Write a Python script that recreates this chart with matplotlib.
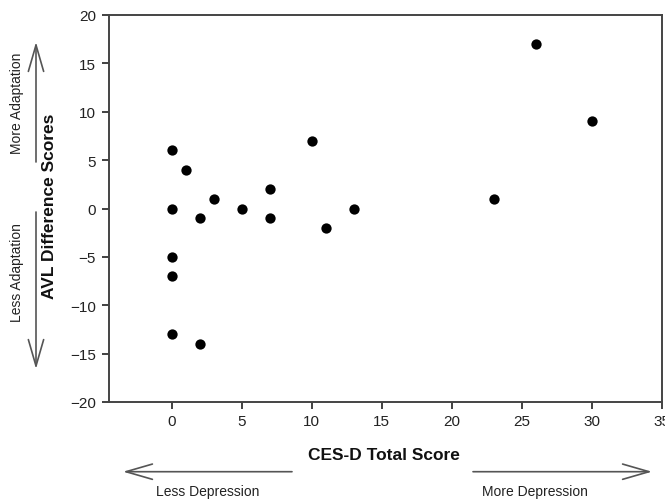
import matplotlib
matplotlib.use("Agg")
import matplotlib.pyplot as plt
from matplotlib.patches import FancyArrowPatch

plt.rcParams['font.family'] = ['Liberation Sans', 'DejaVu Sans']

# Data
ces_d = [0, 1, 0, 2, 3, 5, 7, 7, 10, 11, 13, 0, 0, 0, 2, 23, 26, 30]
avl_diff = [6, 4, 0, -1, 1, 0, 2, -1, 7, -2, 0, -5, -7, -13, -14, 1, 17, 9]
x_ticks = [0, 5, 10, 15, 20, 25, 30, 35]
y_ticks = [-20, -15, -10, -5, 0, 5, 10, 15, 20]

W, H = 665, 502
fig = plt.figure(figsize=(W / 100, H / 100), dpi=100)

def fx(px):
    return px / W

def fy(py):
    return 1 - py / H

ax = fig.add_axes([fx(108.5), fy(403), fx(661.5) - fx(108.5), fy(16) - fy(403)])
ax.scatter(ces_d, avl_diff, s=55, color='black', zorder=3, linewidths=0)
ax.set_xlim(-4.5, 35)
ax.set_ylim(-20, 20)
ax.set_xticks(x_ticks)
ax.set_yticks(y_ticks)
ax.tick_params(direction='out', length=5, width=1.3, color='#333333',
               labelsize=11, labelcolor='#222222', pad=4)
for sp in ax.spines.values():
    sp.set_color('#444444')
    sp.set_linewidth(1.4)

# Axis labels
fig.text(fx(384), fy(456), 'CES-D Total Score', ha='center', va='center',
         fontsize=12.5, fontweight='bold', color='#111111')
fig.text(fx(50), fy(206), 'AVL Difference Scores', ha='center', va='center',
         rotation=90, fontsize=12.5, fontweight='bold', color='#111111')

arrow_color = '#555555'
style = '->,head_length=1.9,head_width=0.55'

def arrow(x0, y0, x1, y1):
    a = FancyArrowPatch((fx(x0), fy(y0)), (fx(x1), fy(y1)),
                        transform=fig.transFigure, arrowstyle=style,
                        mutation_scale=10, color=arrow_color, lw=1.2,
                        shrinkA=0, shrinkB=0)
    fig.patches.append(a)

# Horizontal arrows
arrow(292, 472.7, 123, 472.7)
arrow(473, 472.7, 652, 472.7)
fig.text(fx(208), fy(492), 'Less Depression', ha='center', va='center',
         fontsize=10, color='#222222')
fig.text(fx(535), fy(492), 'More Depression', ha='center', va='center',
         fontsize=10, color='#222222')

# Vertical arrows
arrow(36, 163, 36, 43)
arrow(36, 213, 36, 370)
fig.text(fx(17), fy(103), 'More Adaptation', ha='center', va='center',
         rotation=90, fontsize=10, color='#222222')
fig.text(fx(17), fy(273), 'Less Adaptation', ha='center', va='center',
         rotation=90, fontsize=10, color='#222222')

fig.savefig('out.png', dpi=100)
